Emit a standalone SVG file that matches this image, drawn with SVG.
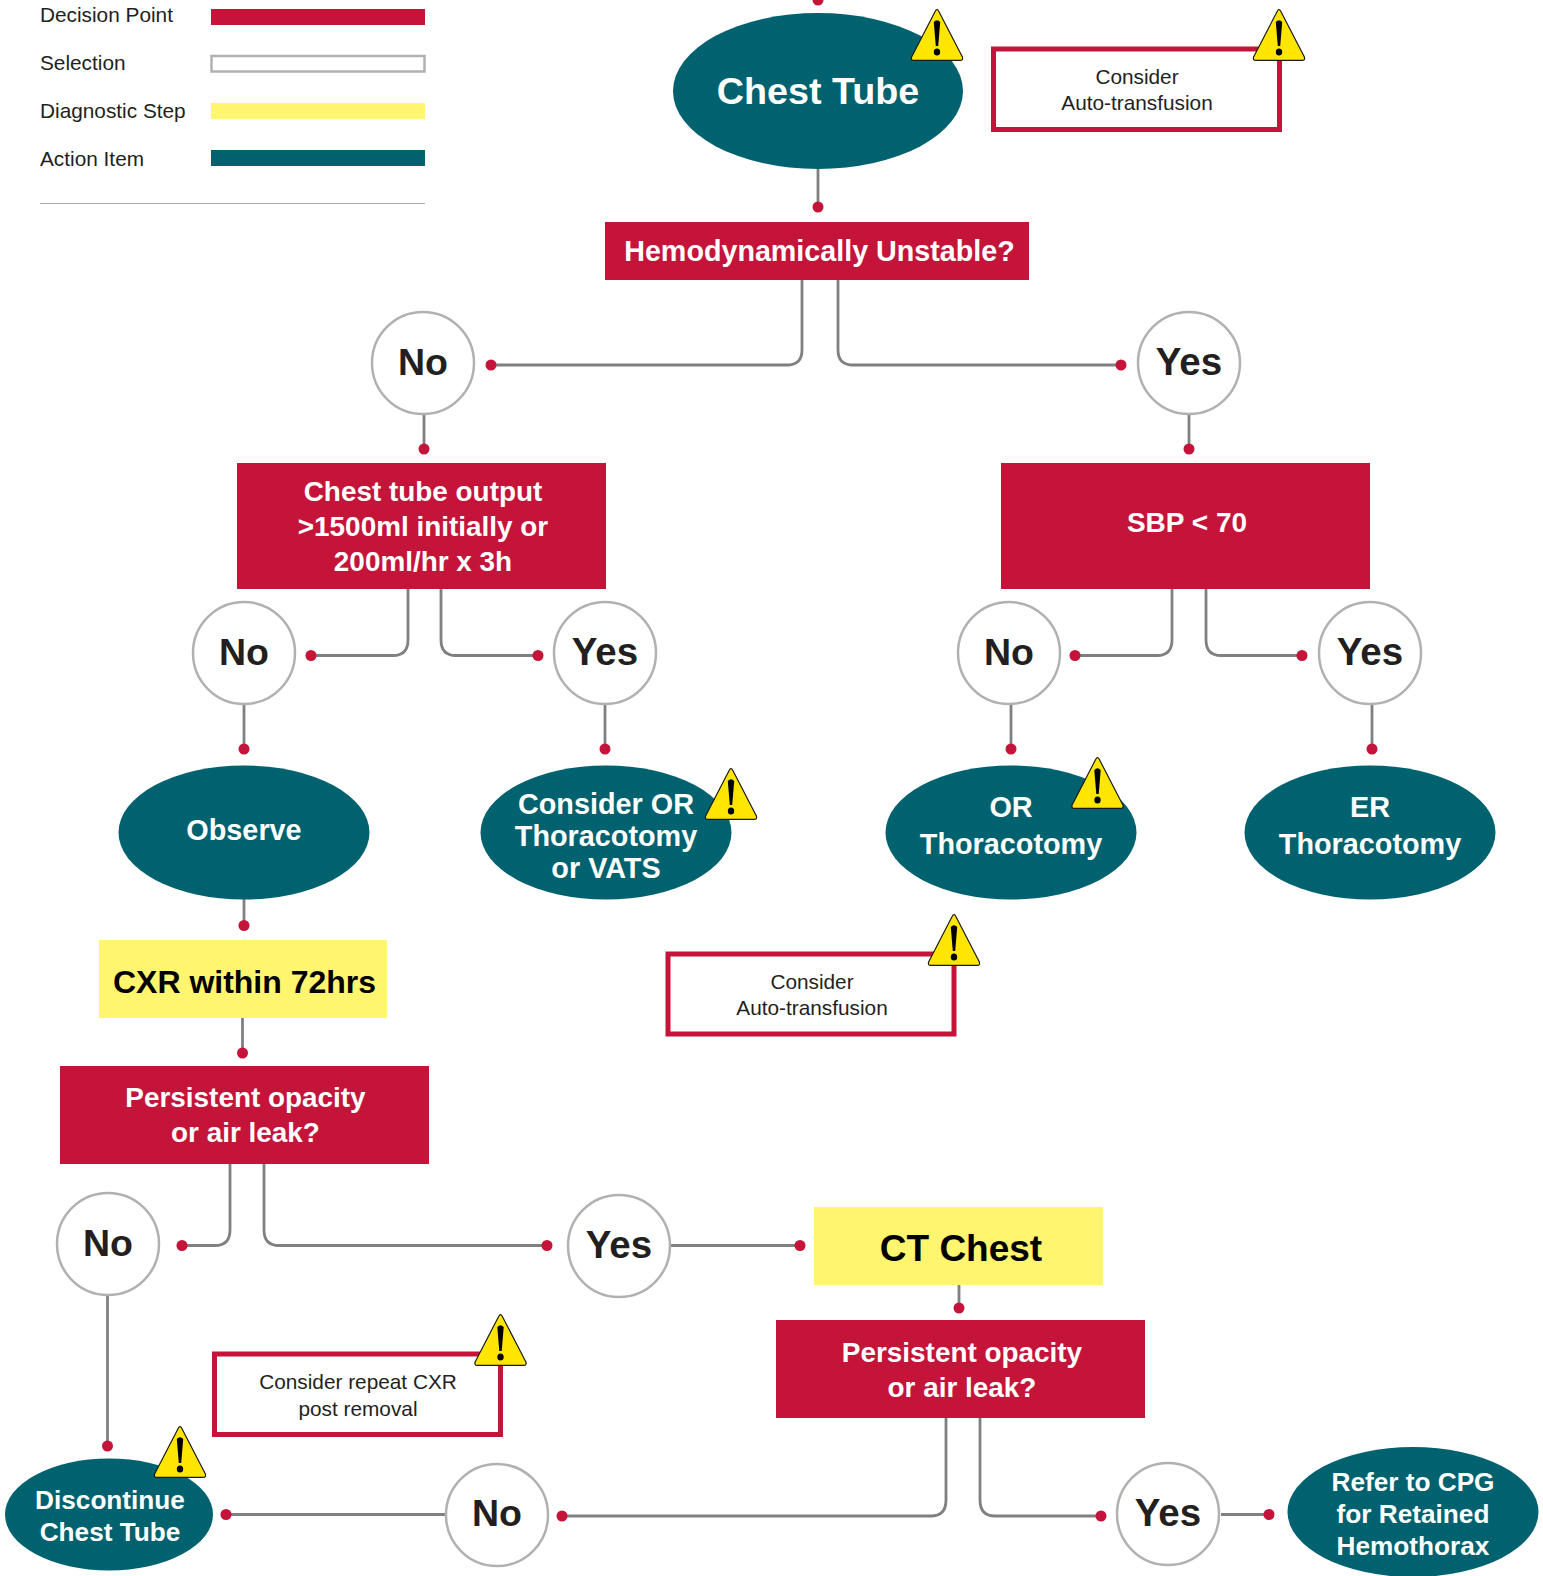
<svg xmlns="http://www.w3.org/2000/svg" xmlns:xlink="http://www.w3.org/1999/xlink" width="1543" height="1576" viewBox="0 0 1543 1576">
<style>
text{font-family:"Liberation Sans",Arial,sans-serif;text-anchor:middle}
.d{fill:#C5143A}.a{fill:#00626F}.y{fill:#FFF56F}
.t{fill:#fff;font-weight:700}
.c{fill:#fff;stroke:#B0B1B3;stroke-width:2.5}
.ct{fill:#231F20;font-weight:700;font-size:37.500px}
.cy{fill:#231F20;font-weight:700;font-size:38.500px}
.n{fill:#fff;stroke:#C5143A;stroke-width:5}
.nt{fill:#231F20;font-size:20.800px}
.lg{fill:#231F20;font-size:20.800px;text-anchor:start}
.l{fill:none;stroke:#808080;stroke-width:2.800}
.p{fill:#C5143A}
.w1{fill:#FFE600;stroke:#1a1a1a;stroke-width:1.200;stroke-linejoin:round}
</style>
<defs>
<g id="warn">
<path class="w1" d="M26 0.600 Q27 0.600 27.600 2 L51.400 48 Q52.400 51.400 49 51.400 L3 51.400 Q-0.400 51.400 0.600 48 L24.400 2 Q25 0.600 26 0.600Z"/>
<path d="M22.800 13 Q26 9.500 29.200 13 L27.200 37 L24.800 37Z" fill="#000"/>
<ellipse cx="26" cy="43" rx="3.200" ry="3.600" fill="#000"/>
</g>
</defs>
<rect width="1543" height="1576" fill="#fff"/>
<g id="legend">
<text class="lg" x="40" y="22">Decision Point</text>
<text class="lg" x="40" y="70">Selection</text>
<text class="lg" x="40" y="118">Diagnostic Step</text>
<text class="lg" x="40" y="166">Action Item</text>
<rect class="d" x="211" y="9" width="214" height="16"/>
<rect x="211.500" y="56" width="213" height="15.500" fill="#fff" stroke="#B0B1B3" stroke-width="2.500"/>
<rect class="y" x="211" y="103" width="214" height="16"/>
<rect class="a" x="211" y="150" width="214" height="16"/>
<line x1="40" y1="203.500" x2="425" y2="203.500" stroke="#A7A9AC" stroke-width="1.200"/>
</g>
<g id="connectors">
<path class="l" d="M818 168V207"/>
<path class="l" d="M802 280V350Q802 365 787 365H491"/>
<path class="l" d="M838 280V350Q838 365 853 365H1121"/>
<path class="l" d="M424 414V449"/>
<path class="l" d="M1189 414V449"/>
<path class="l" d="M408 589V640Q408 655.500 393 655.500H311"/>
<path class="l" d="M441 589V640Q441 655.500 456 655.500H538"/>
<path class="l" d="M1172 589V640Q1172 655.500 1157 655.500H1075"/>
<path class="l" d="M1206 589V640Q1206 655.500 1221 655.500H1302"/>
<path class="l" d="M244 704V749"/>
<path class="l" d="M605 704V749"/>
<path class="l" d="M1011 704V749"/>
<path class="l" d="M1372 704V749"/>
<path class="l" d="M244 899V925"/>
<path class="l" d="M242.500 1018V1053"/>
<path class="l" d="M230 1164V1230Q230 1245.500 215 1245.500H182"/>
<path class="l" d="M264 1164V1230Q264 1245.500 279 1245.500H547"/>
<path class="l" d="M670 1245.500H800"/>
<path class="l" d="M959 1285V1308"/>
<path class="l" d="M107.500 1296V1446"/>
<path class="l" d="M946 1418V1500Q946 1516 931 1516H562"/>
<path class="l" d="M980 1418V1500Q980 1516 995 1516H1101"/>
<path class="l" d="M226 1514.500H445"/>
<path class="l" d="M1221 1514.500H1269"/>
<circle class="p" cx="818" cy="0" r="5.500"/>
<circle class="p" cx="818" cy="207" r="5.500"/>
<circle class="p" cx="491" cy="365" r="5.500"/>
<circle class="p" cx="1121" cy="365" r="5.500"/>
<circle class="p" cx="424" cy="449" r="5.500"/>
<circle class="p" cx="1189" cy="449" r="5.500"/>
<circle class="p" cx="311" cy="655.500" r="5.500"/>
<circle class="p" cx="538" cy="655.500" r="5.500"/>
<circle class="p" cx="1075" cy="655.500" r="5.500"/>
<circle class="p" cx="1302" cy="655.500" r="5.500"/>
<circle class="p" cx="244" cy="749" r="5.500"/>
<circle class="p" cx="605" cy="749" r="5.500"/>
<circle class="p" cx="1011" cy="749" r="5.500"/>
<circle class="p" cx="1372" cy="749" r="5.500"/>
<circle class="p" cx="244" cy="925.500" r="5.500"/>
<circle class="p" cx="242.500" cy="1053" r="5.500"/>
<circle class="p" cx="182" cy="1245.500" r="5.500"/>
<circle class="p" cx="547" cy="1245.500" r="5.500"/>
<circle class="p" cx="800" cy="1245.500" r="5.500"/>
<circle class="p" cx="959" cy="1308" r="5.500"/>
<circle class="p" cx="107.500" cy="1446" r="5.500"/>
<circle class="p" cx="226" cy="1514.500" r="5.500"/>
<circle class="p" cx="562" cy="1516" r="5.500"/>
<circle class="p" cx="1101" cy="1516" r="5.500"/>
<circle class="p" cx="1269" cy="1514.500" r="5.500"/>
</g>
<g id="chest-tube"><ellipse class="a" cx="818" cy="91" rx="145" ry="78"/><text class="t" x="818" y="103.500" font-size="37.700">Chest Tube</text><use xlink:href="#warn" href="#warn" x="911" y="9"/></g>
<g id="note-autotransfusion-1"><rect class="n" x="993.500" y="49" width="286" height="80.500"/><text class="nt" x="1137" y="84">Consider</text><text class="nt" x="1137" y="110">Auto-transfusion</text><use xlink:href="#warn" href="#warn" x="1253" y="9"/></g>
<g id="hemodynamically"><rect class="d" x="605" y="222" width="424" height="58"/><text class="t" x="819.500" y="261" font-size="28.700">Hemodynamically Unstable?</text></g>
<g id="no-1"><circle class="c" cx="423" cy="363" r="51"/><text class="ct" x="423" y="374.500">No</text></g>
<g id="yes-1"><circle class="c" cx="1189" cy="363" r="51"/><text class="cy" x="1189" y="374.500">Yes</text></g>
<g id="output"><rect class="d" x="237" y="463" width="369" height="126"/><text class="t" x="423" y="501" font-size="27.900">Chest tube output</text><text class="t" x="423" y="536" font-size="27.900">&gt;1500ml initially or</text><text class="t" x="423" y="571" font-size="27.900">200ml/hr x 3h</text></g>
<g id="sbp"><rect class="d" x="1001" y="463" width="369" height="126"/><text class="t" x="1187" y="532" font-size="28">SBP &lt; 70</text></g>
<g id="no-2"><circle class="c" cx="244" cy="653" r="51"/><text class="ct" x="244" y="665">No</text></g>
<g id="yes-2"><circle class="c" cx="605" cy="653" r="51"/><text class="cy" x="605" y="664.500">Yes</text></g>
<g id="no-3"><circle class="c" cx="1009" cy="653" r="51"/><text class="ct" x="1009" y="665">No</text></g>
<g id="yes-3"><circle class="c" cx="1370" cy="653" r="51"/><text class="cy" x="1370" y="664.500">Yes</text></g>
<g id="observe"><ellipse class="a" cx="244" cy="832.500" rx="125.500" ry="67"/><text class="t" x="244" y="840" font-size="28.800">Observe</text></g>
<g id="consider-or"><ellipse class="a" cx="606" cy="832.500" rx="125.500" ry="67"/><text class="t" x="606" y="814" font-size="28.800">Consider OR</text><text class="t" x="606" y="846" font-size="28.800">Thoracotomy</text><text class="t" x="606" y="878" font-size="28.800">or VATS</text><use xlink:href="#warn" href="#warn" x="705" y="768"/></g>
<g id="or-thoracotomy"><ellipse class="a" cx="1011" cy="832.500" rx="125.500" ry="67"/><text class="t" x="1011" y="817" font-size="28.800">OR</text><text class="t" x="1011" y="854" font-size="28.800">Thoracotomy</text><use xlink:href="#warn" href="#warn" x="1071.500" y="757"/></g>
<g id="er-thoracotomy"><ellipse class="a" cx="1370" cy="832.500" rx="125.500" ry="67"/><text class="t" x="1370" y="817" font-size="28.800">ER</text><text class="t" x="1370" y="854" font-size="28.800">Thoracotomy</text></g>
<g id="cxr"><rect class="y" x="99" y="940" width="288" height="78"/><text x="244.500" y="993" font-size="32" font-weight="700" fill="#000">CXR within 72hrs</text></g>
<g id="note-autotransfusion-2"><rect class="n" x="668" y="954" width="286" height="80"/><text class="nt" x="812" y="989">Consider</text><text class="nt" x="812" y="1015">Auto-transfusion</text><use xlink:href="#warn" href="#warn" x="928" y="914"/></g>
<g id="persistent-1"><rect class="d" x="60" y="1066" width="369" height="98"/><text class="t" x="245.500" y="1107" font-size="27.900">Persistent opacity</text><text class="t" x="245.500" y="1142" font-size="27.900">or air leak?</text></g>
<g id="no-4"><circle class="c" cx="108" cy="1244" r="51"/><text class="ct" x="108" y="1256">No</text></g>
<g id="yes-4"><circle class="c" cx="619" cy="1246" r="51"/><text class="cy" x="619" y="1257.500">Yes</text></g>
<g id="ct-chest"><rect class="y" x="814" y="1207" width="289" height="78"/><text x="961" y="1261" font-size="37" font-weight="700" fill="#000">CT Chest</text></g>
<g id="persistent-2"><rect class="d" x="776" y="1320" width="369" height="98"/><text class="t" x="962" y="1362" font-size="27.900">Persistent opacity</text><text class="t" x="962" y="1397" font-size="27.900">or air leak?</text></g>
<g id="note-repeat-cxr"><rect class="n" x="214.500" y="1354" width="286" height="80.500"/><text class="nt" x="358" y="1389">Consider repeat CXR</text><text class="nt" x="358" y="1416">post removal</text><use xlink:href="#warn" href="#warn" x="474.500" y="1314"/></g>
<g id="discontinue"><ellipse class="a" cx="109" cy="1514.500" rx="104" ry="56"/><text class="t" x="110" y="1509" font-size="26.200">Discontinue</text><text class="t" x="110" y="1541" font-size="26.200">Chest Tube</text><use xlink:href="#warn" href="#warn" x="154" y="1426"/></g>
<g id="no-5"><circle class="c" cx="497" cy="1515" r="51"/><text class="ct" x="497" y="1526">No</text></g>
<g id="yes-5"><circle class="c" cx="1168" cy="1514" r="51"/><text class="cy" x="1168" y="1525.500">Yes</text></g>
<g id="refer"><ellipse class="a" cx="1413" cy="1512" rx="125.500" ry="65"/><text class="t" x="1413" y="1491" font-size="26.200">Refer to CPG</text><text class="t" x="1413" y="1523" font-size="26.200">for Retained</text><text class="t" x="1413" y="1555" font-size="26.200">Hemothorax</text></g>
</svg>
